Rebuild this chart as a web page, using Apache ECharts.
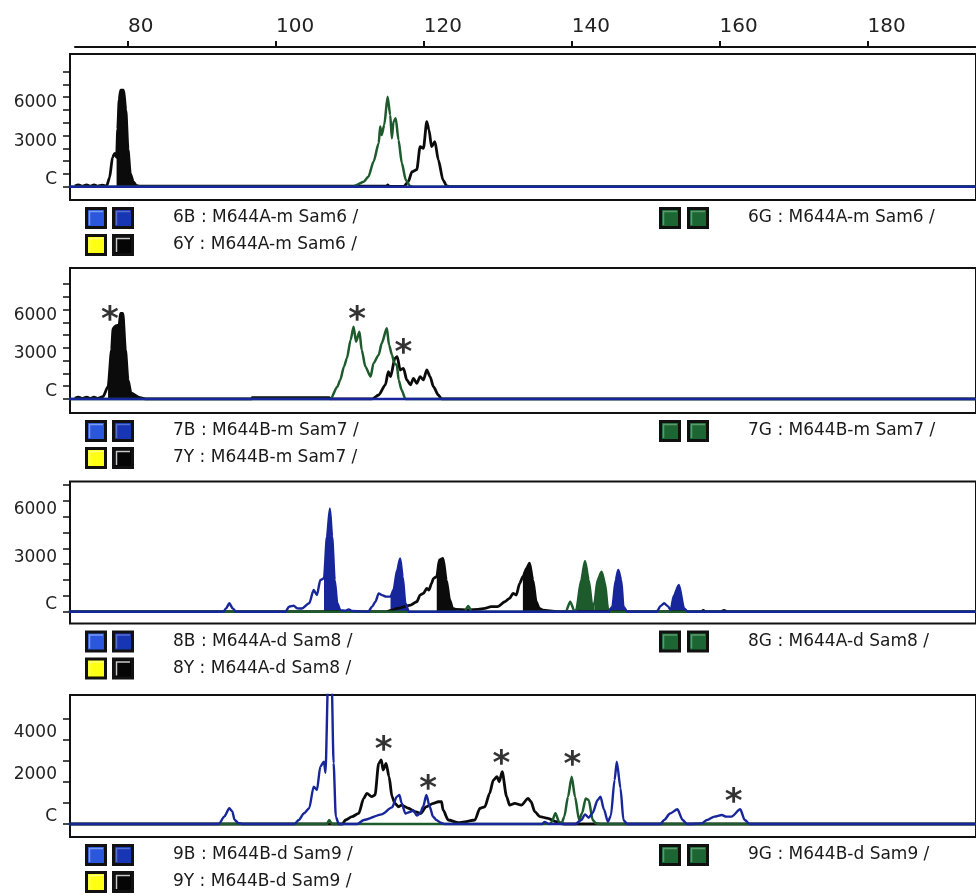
<!DOCTYPE html>
<html>
<head>
<meta charset="utf-8">
<script src="https://cdn.jsdelivr.net/npm/echarts@6/dist/echarts.min.js"></script>
<style>
  html, body { margin: 0; padding: 0; background: #fff; }
  #c { width: 976px; height: 893px; }
</style>
</head>
<body>
<div id="c"></div>
<script>
// ---- size scale (bp) ----
const sizeTicks = [80, 100, 120, 140, 160, 180];

// ---- RFU axis ticks / labels ----
const ticks9k = [0, 1000, 2000, 3000, 4000, 5000, 6000, 7000, 8000, 9000];
const ticks8k = [0, 1000, 2000, 3000, 4000, 5000, 6000, 7000, 8000];
const ticks5k = [0, 1000, 2000, 3000, 4000, 5000];
const labels6k = [0, 3000, 6000];
const labels4k = [0, 2000, 4000];

// ---- Sam6 : M644A-m ----
const p1Black = [[72.8,60],[73.3,150],[73.8,40],[74.4,150],[74.9,40],[75.4,150],[75.9,40],[76.5,120],[77.1,60],[77.5,700],[77.9,2300],[78.2,2600],[78.45,2300],[78.6,4500],[78.8,6800],[79.0,7550],[79.4,7550],[79.7,6000],[80.0,2900],[80.3,1050],[80.7,400],[81.1,100],[81.6,40],[110,40],[115.0,40],[115.1,150],[115.3,40],[117.3,20],[117.9,390],[118.4,1170],[119.05,1330],[119.5,3130],[119.95,3000],[120.4,5090],[120.7,4440],[121.05,3130],[121.5,3520],[121.97,2090],[122.6,520],[123.1,60],[123.6,0],[196,0]];
const p1Green = [[72,0],[110.5,0],[110.75,100],[111.87,390],[112.5,780],[113.2,1960],[113.9,3400],[114.1,4700],[114.3,4050],[114.65,4830],[115.1,7040],[115.46,5610],[115.68,3790],[115.9,5090],[116.2,5350],[116.58,3650],[117.03,1830],[117.57,520],[118.16,50],[118.5,0],[196,0]];
const p1Blue = [[72,0],[196,0]];
const p1BlackFill = [[78.45, 81.6]];

// ---- Sam7 : M644B-m ----
const p2Black = [[72.8,60],[73.3,150],[73.8,40],[74.4,150],[74.9,40],[75.4,150],[75.9,40],[76.6,180],[77.3,960],[77.77,3840],[77.98,5530],[78.4,5750],[78.8,5800],[78.98,6710],[79.3,6710],[79.65,3840],[80.0,1490],[80.4,450],[81.6,100],[82.5,0],[96.7,0],[96.8,100],[107.2,100],[107.4,0],[113,0],[113.9,310],[114.8,1100],[115.2,2140],[115.5,1750],[116.1,3190],[116.4,3320],[116.8,2270],[117.25,2400],[117.7,1490],[118.2,1100],[118.6,1620],[119.05,1230],[119.5,1750],[119.95,1490],[120.4,2270],[120.85,1750],[121.3,960],[121.97,310],[122.4,0],[196,0]];
const p2Green = [[72,0],[107.4,0],[108.3,960],[108.7,1490],[109.2,2530],[109.6,3190],[110.1,4620],[110.5,5660],[110.83,4490],[111.3,5270],[111.6,3840],[112.1,2530],[112.8,1750],[113.2,2800],[113.9,3450],[114.3,4360],[115.0,5530],[115.3,4230],[115.7,3450],[116.0,2800],[116.35,2660],[116.6,1490],[117.0,700],[117.5,0],[196,0]];
const p2Blue = [[72,0],[196,0]];
const p2BlackFill = [[77.3, 81.6]];
const p2Stars = [[77.55,6730],[110.97,6710],[117.25,4100]];

// ---- Sam8 : M644A-d ----
const p3Blue = [[72,0],[92.9,0],[93.25,210],[93.7,530],[94.15,210],[94.6,0],[101.3,0],[101.77,320],[102.4,380],[102.9,210],[103.5,200],[104.5,530],[105.1,1370],[105.55,1050],[106.0,2000],[106.5,2110],[106.9,4740],[107.3,6530],[107.6,4740],[107.95,2000],[108.3,530],[108.7,100],[109.4,60],[109.85,150],[110.3,40],[112.5,0],[113.0,320],[113.45,630],[113.9,1160],[114.35,1050],[114.9,950],[115.5,950],[115.9,1370],[116.4,2630],[116.8,3370],[117.15,2210],[117.5,530],[118.0,0],[145.0,0],[145.5,320],[145.95,2000],[146.3,2630],[146.7,2000],[147.0,320],[147.5,0],[151.5,0],[152.0,350],[152.5,530],[153.0,350],[153.4,100],[153.8,1000],[154.5,1690],[155.2,210],[155.7,0],[196,0]];
const p3Green = [[72,0],[125.5,0],[126.0,360],[126.5,0],[139.2,0],[139.8,630],[140.4,0],[140.6,100],[141.3,2000],[141.8,3200],[142.3,2000],[142.8,320],[143.07,530],[143.5,2000],[144.05,2530],[144.5,1790],[144.9,210],[145.2,0],[196,0]];
const p3Black = [[72,0],[115.0,0],[115.7,100],[116.4,210],[118.2,420],[119.05,630],[119.5,1050],[119.95,1160],[120.4,1470],[120.7,1370],[121.05,1790],[121.3,2110],[121.75,2210],[122.1,3270],[122.6,3370],[123.05,2000],[123.5,740],[123.9,210],[124.3,150],[126.0,120],[127.35,150],[128.25,210],[129.1,320],[130.0,320],[130.95,630],[131.6,840],[132.07,1160],[132.5,1050],[132.97,1790],[133.4,2210],[133.9,2740],[134.3,3060],[134.75,2000],[135.2,630],[135.6,210],[136.1,100],[138,0],[157.5,0],[157.8,80],[158.1,0],[160.2,0],[160.6,80],[161,0],[196,0]];
const p3BlueFill = [[106.5,108.7],[115.5,118.0],[145.0,147.5],[153.4,155.7]];
const p3GreenFill = [[140.6,143.07],[143.07,145.2]];
const p3BlackFill = [[121.75,124.3],[133.4,136.1]];

// ---- Sam9 : M644B-d ----
const p4Blue = [[72,0],[92.2,0],[92.35,30],[93.0,350],[93.7,750],[94.1,600],[94.4,200],[94.9,50],[95.5,0],[102.5,0],[103.1,190],[103.8,510],[104.5,750],[105.1,1780],[105.55,1620],[106.0,2730],[106.5,2970],[106.7,2440],[107.1,7500],[107.5,7500],[107.8,2900],[108.1,350],[108.5,0],[111.0,0],[111.9,190],[114.3,460],[115.7,790],[116.35,1300],[116.7,1380],[117.0,1000],[117.5,500],[118.1,570],[118.6,650],[119.05,400],[119.5,500],[119.9,820],[120.35,1380],[120.8,820],[121.25,350],[121.7,190],[122.3,60],[122.8,0],[136,0],[136.3,100],[137.0,0],[140.5,0],[141.3,190],[141.8,460],[142.3,300],[142.85,540],[143.5,1140],[143.9,1300],[144.35,700],[144.9,110],[145.3,400],[145.8,2100],[146.1,2970],[146.6,1700],[147.0,190],[147.5,0],[152.0,0],[152.5,190],[153.3,500],[154.3,700],[155.0,190],[155.6,0],[157.6,30],[158.3,190],[159.3,350],[160.3,430],[160.9,350],[161.6,350],[162.8,700],[163.4,190],[164.1,0],[196,0]];
const p4Black = [[72,0],[109.0,0],[109.4,190],[110.3,350],[111.2,510],[111.87,1220],[112.3,1460],[112.95,1300],[113.4,1380],[113.9,2890],[114.25,3050],[114.5,2570],[114.9,2890],[115.3,2250],[115.7,1300],[116.1,980],[116.6,820],[117.0,900],[117.9,750],[118.8,590],[119.6,500],[120.3,820],[121.3,980],[121.97,1060],[122.4,1060],[122.6,670],[123.3,190],[124.7,60],[125.5,100],[126.9,190],[127.6,750],[128.25,820],[128.9,1460],[129.4,2090],[129.9,2250],[130.2,2010],[130.6,2490],[131.2,1300],[131.6,900],[132.3,980],[133.2,900],[134.1,1220],[134.5,1060],[135.0,590],[135.7,350],[136.8,270],[137.9,110],[139.0,0],[196,0]];
const p4Green = [[72,0],[106.9,0],[107.2,190],[107.6,0],[137.0,0],[137.3,100],[137.8,510],[138.3,100],[138.6,0],[139.0,350],[139.5,1300],[140.0,2250],[140.45,1300],[141.0,190],[141.4,510],[141.9,1220],[142.3,1140],[142.85,190],[143.3,30],[144,0],[196,0]];
const p4Stars = [[114.56,3840],[120.6,2010],[130.5,3200],[140.1,3130],[161.9,1380]];

// ---- sample captions ----
const p1Names = ['6B : M644A-m Sam6 /', '6Y : M644A-m Sam6 /', '6G : M644A-m Sam6 /'];
const p2Names = ['7B : M644B-m Sam7 /', '7Y : M644B-m Sam7 /', '7G : M644B-m Sam7 /'];
const p3Names = ['8B : M644A-d Sam8 /', '8Y : M644A-d Sam8 /', '8G : M644A-d Sam8 /'];
const p4Names = ['9B : M644B-d Sam9 /', '9Y : M644B-d Sam9 /', '9G : M644B-d Sam9 /'];

// ---------------------------------------------------------------
const FONT = '"DejaVu Sans", Verdana, sans-serif';
const COL = { blue: '#17269a', green: '#1d5a2c', black: '#0b0b0b' };

const panels = [
  { top: 54,    height: 146, yMin: -1040, yMax: 10380, ticks: ticks9k, labels: labels6k,
    black: p1Black, green: p1Green, blue: p1Blue, fills: { black: p1BlackFill }, stars: [], names: p1Names },
  { top: 268,   height: 145, yMin: -1100, yMax: 10260, ticks: ticks9k, labels: labels6k,
    black: p2Black, green: p2Green, blue: p2Blue, fills: { black: p2BlackFill }, stars: p2Stars, names: p2Names },
  { top: 481.5, height: 142, yMin: -745,  yMax: 8225,  ticks: ticks8k, labels: labels6k,
    black: p3Black, green: p3Green, blue: p3Blue, fills: { blue: p3BlueFill, green: p3GreenFill, black: p3BlackFill }, stars: [], names: p3Names },
  { top: 695,   height: 142, yMin: -619,  yMax: 6143,  ticks: ticks5k, labels: labels4k,
    black: p4Black, green: p4Green, blue: p4Blue, fills: {}, stars: p4Stars, names: p4Names }
];

const PANEL_LEFT = 70, PANEL_W = 910;
const X_MIN = 72.15, X_MAX = 194.68;

function segment(trace, range) {
  return trace.filter(p => p[0] >= range[0] && p[0] <= range[1]);
}

const grids = [{ left: 75, top: 46, width: 905, height: 1, show: false }];
const xAxes = [{
  type: 'value', gridIndex: 0, position: 'top', min: 72.82, max: 194.68,
  axisLine: { show: true, lineStyle: { color: '#111', width: 2 } },
  axisTick: { show: true, customValues: sizeTicks, length: 6, lineStyle: { color: '#111', width: 2 } },
  axisLabel: { customValues: sizeTicks, align: 'left', margin: 9, fontSize: 20, fontFamily: FONT, color: '#222' },
  splitLine: { show: false }
}];
const yAxes = [{ type: 'value', gridIndex: 0, show: false }];
const series = [];
const graphics = [];

panels.forEach((p, i) => {
  const gi = i + 1;
  grids.push({ left: PANEL_LEFT, top: p.top, width: PANEL_W, height: p.height,
    show: true, borderColor: '#111', borderWidth: 2, backgroundColor: 'transparent' });
  xAxes.push({ type: 'value', gridIndex: gi, min: X_MIN, max: X_MAX, show: false });
  yAxes.push({
    type: 'value', gridIndex: gi, min: p.yMin, max: p.yMax,
    axisLine: { show: false },
    splitLine: { show: false },
    axisTick: { show: true, customValues: p.ticks, length: 7, lineStyle: { color: '#111', width: 1.5 } },
    axisLabel: { customValues: p.labels, formatter: v => (v === 0 ? 'C' : String(v)),
      fontSize: 17, fontFamily: FONT, color: '#222', margin: 13, verticalAlign: 'bottom', lineHeight: 14 }
  });

  const lineBase = { type: 'line', xAxisIndex: gi, yAxisIndex: gi, showSymbol: false, symbol: 'none',
    smooth: 0.25, smoothMonotone: 'x', animation: false, silent: true };

  // filled (called) peaks under the traces
  Object.keys(p.fills).forEach(ch => {
    p.fills[ch].forEach(r => {
      series.push(Object.assign({}, lineBase, {
        data: segment(p[ch], r), z: 2,
        lineStyle: { width: 0 },
        areaStyle: { color: COL[ch], opacity: 1 }
      }));
    });
  });
  series.push(Object.assign({}, lineBase, { data: p.black, z: 3, lineStyle: { color: COL.black, width: 2.8 } }));
  series.push(Object.assign({}, lineBase, { data: p.green, z: 4, lineStyle: { color: COL.green, width: 2.5 } }));
  series.push(Object.assign({}, lineBase, { data: p.blue, z: 5, lineStyle: { color: COL.blue, width: 2.4 } }));
  if (p.stars.length) {
    series.push({ type: 'scatter', xAxisIndex: gi, yAxisIndex: gi, data: p.stars, symbolSize: 2,
      itemStyle: { color: 'rgba(0,0,0,0)' }, animation: false, silent: true, z: 6,
      label: { show: true, position: 'inside', formatter: '*', fontSize: 34, fontWeight: 'bold',
        fontFamily: FONT, color: '#000', offset: [0, 8] } });
  }

  // dye captions under each panel
  const bottom = p.top + p.height;
  const row1 = bottom + 7, row2 = bottom + 34;
  const sq = (x, y, fill, hi) => {
    graphics.push({ type: 'rect', shape: { x: x, y: y, width: 22, height: 22 }, style: { fill: '#111' }, silent: true });
    graphics.push({ type: 'rect', shape: { x: x + 3, y: y + 3, width: 16, height: 16 }, style: { fill: fill }, silent: true });
    graphics.push({ type: 'polyline', shape: { points: [[x + 4.5, y + 18], [x + 4.5, y + 4.5], [x + 18, y + 4.5]] },
      style: { stroke: hi, lineWidth: 1.5, fill: null }, silent: true });
  };
  sq(85, row1, '#2a57de', '#7c9cf0');
  sq(112, row1, '#1736b3', '#5570d0');
  sq(85, row2, '#ffff14', '#ffff80');
  sq(112, row2, '#050505', '#c8c8c8');
  sq(659, row1, '#1c6634', '#5c9a6c');
  sq(687, row1, '#1c6634', '#5c9a6c');
  const txt = (x, y, s) => graphics.push({ type: 'text', x: x, y: y, silent: true,
    style: { text: s, fill: '#1a1a1a', fontSize: 17, fontFamily: FONT, verticalAlign: 'middle', align: 'left' } });
  txt(173, row1 + 11, p.names[0]);
  txt(173, row2 + 11, p.names[1]);
  txt(748, row1 + 11, p.names[2]);
});

const chart = echarts.init(document.getElementById('c'));
chart.setOption({
  animation: false,
  backgroundColor: '#fff',
  grid: grids,
  xAxis: xAxes,
  yAxis: yAxes,
  series: series,
  graphic: graphics
});
</script>
</body>
</html>
